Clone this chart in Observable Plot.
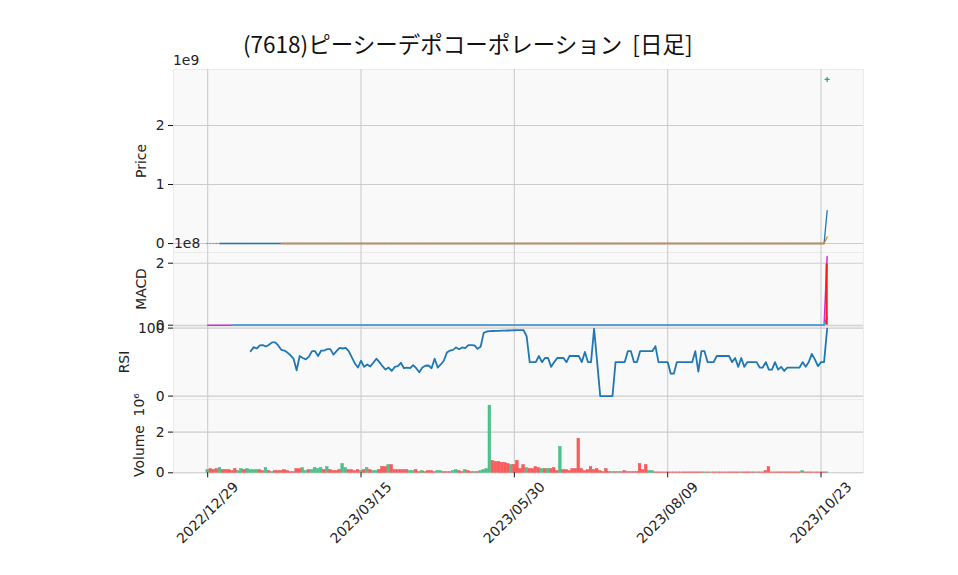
<!DOCTYPE html>
<html><head><meta charset="utf-8">
<script src="https://cdn.jsdelivr.net/npm/d3@7"></script>
<script src="https://cdn.jsdelivr.net/npm/@observablehq/plot@0.6"></script>
<style>
body{margin:0;background:#fff;}
#wrap{position:relative;width:958px;height:575px;overflow:hidden;font-family:"DejaVu Sans",sans-serif;color:#222;}
#title{position:absolute;left:243px;top:32px;font-family:"Noto Sans CJK JP";font-size:22.5px;line-height:23px;color:#111;white-space:pre;z-index:2;}
.lab{position:absolute;font-size:13.9px;line-height:16px;white-space:pre;z-index:2;}
.rot{transform:translate(-50%,-50%) rotate(-90deg);}
svg{position:absolute;left:0;z-index:1;}
</style></head><body>
<div id="wrap">
<div id="title">(7618)ピーシーデポコーポレーション  [日足]</div>
<div class="lab" style="left:173px;top:52px">1e9</div>
<div class="lab" style="left:174px;top:235px">1e8</div>
<div class="lab rot" style="left:141px;top:161px">Price</div>
<div class="lab rot" style="left:141px;top:289px">MACD</div>
<div class="lab rot" style="left:124px;top:362px">RSI</div>
<div class="lab rot" style="left:139px;top:435px">Volume  10⁶</div>
</div>
<script>
const xTickIdx = [0, 50, 100, 150, 200];
const xTickLabels = ["2022/12/29", "2023/03/15", "2023/05/30", "2023/08/09", "2023/10/23"];

// daily close (yen); the last day is a data glitch (~2.78e9)
const close = [
318,320,322,321,325,327,326,329,331,330,
333,335,334,337,339,338,341,343,342,345,
347,350,352,350,347,345,343,341,338,332,
336,335,334,336,339,340,338,341,342,344,
345,342,344,347,348,349,347,343,339,336,
339,336,337,335,337,339,337,334,332,333,
330,332,333,335,332,333,332,334,332,329,
331,332,331,335,331,333,335,338,342,345,
347,350,349,352,353,356,358,359,357,360,
372,380,388,395,401,406,410,413,416,418,
419,420,421,400,380,375,374,373,376,372,
375,375,370,372,374,375,376,373,376,377,
378,377,372,376,372,371,385,374,368,365,
362,360,358,362,363,363,362,366,368,364,
363,367,368,369,370,371,375,370,369,368,
367,364,360,360,361,362,362,361,362,363,
356,362,364,363,362,361,363,364,365,366,
367,365,366,363,365,362,363,363,363,363,
361,360,361,359,358,360,358,358,356,356,
356,356,356,356,357,356,357,359,358,357,
357,357,2780000000
];

const rsi = [
null,null,null,null,null,null,null,null,null,null,null,null,null,null,
66,72,70,74.5,75,73,75.5,79,79,74.5,
68,67,64,60,55,38,59,56,54,58,
66,66,59,67,67,69,69,61,66,71,
70,71,66,57,48,42,52,43,46.5,43.6,
49,55,50,44,39,42,37,43,44,49,
41,42,41,45.6,41,35,42,44.6,45,41,
55,42,46.5,52,64,67,68,71.6,69,71.6,
70.6,75,75,74.5,69.6,72.5,93,95,95.5,95.7,
96,96,96.2,96.4,96.5,96.6,96.8,97,97,97,
88,50,50,50,59,50,56,56,43,50,
56,56,56,50,59,59,59,59,50,65,
50,50,99,50,0,0,0,0,0,50,
50,50,50,66,66,50,50,66,66,66,
66,66,73.5,50,50,50,50,33,33,50,
50,50,50,50,50,66,36,66,66,50,
50,50,59,59,59,59,59,50,56,43,
56,43,50,50,50,50,42,42,50,39,
39,50,39,43,37,42,42,42,42,42,
50,43,50,62,54,44,50,50,99
];

// volume in millions of shares
const volM = [
0.13,0.18,0.15,0.18,0.23,0.13,0.13,0.13,0.08,0.18,
0.08,0.18,0.13,0.18,0.13,0.13,0.13,0.13,0.08,0.23,
0.08,0.03,0.08,0.08,0.08,0.13,0.08,0.03,0.03,0.18,
0.18,0.23,0.08,0.13,0.13,0.23,0.18,0.23,0.13,0.28,
0.13,0.08,0.08,0.13,0.43,0.23,0.13,0.13,0.08,0.13,
0.08,0.13,0.23,0.13,0.08,0.08,0.13,0.28,0.28,0.38,
0.38,0.13,0.13,0.13,0.13,0.13,0.08,0.08,0.13,0.03,
0.08,0.03,0.08,0.08,0.03,0.08,0.08,0.03,0.03,0.03,
0.08,0.13,0.08,0.03,0.13,0.08,0.03,0.03,0.03,0.08,
0.13,0.18,3.30,0.58,0.53,0.53,0.48,0.48,0.43,0.38,
0.38,0.58,0.18,0.38,0.23,0.18,0.18,0.28,0.23,0.18,
0.18,0.18,0.18,0.23,0.08,1.27,0.13,0.13,0.08,0.18,
0.18,1.67,0.18,0.08,0.13,0.28,0.13,0.18,0.08,0.03,
0.18,0.03,0.03,0.03,0.03,0.03,0.08,0.03,0.03,0.03,
0.03,0.43,0.13,0.38,0.08,0.08,0.02,0.02,0.02,0.02,
0.02,0.02,0.02,0.02,0.02,0.02,0.02,0.02,0.02,0.02,
0.02,0.02,0.02,0.02,0.02,0.02,0.02,0.02,0.02,0.02,
0.02,0.02,0.02,0.02,0.02,0.02,0.02,0.02,0.02,0.02,
0.02,0.02,0.08,0.28,0.02,0.02,0.02,0.02,0.02,0.02,
0.02,0.02,0.02,0.02,0.08,0.02,0.02,0.02,0.02,0.02,
0.02,0.02,0.02
];
const volUp = [
1,0,0,0,1,0,0,0,0,0, 1,1,0,1,1,1,1,0,0,1, 0,1,0,0,0,0,0,0,0,0, 0,1,1,0,1,1,1,1,0,1,
0,0,0,0,1,1,0,0,0,0, 1,0,1,0,1,1,0,0,0,1, 0,0,0,0,0,0,1,1,0,0, 1,0,0,0,0,1,1,0,0,0,
1,1,0,0,1,0,0,1,0,1, 1,1,1,0,0,0,0,0,0,1, 0,0,0,0,1,0,0,0,0,1, 0,1,0,0,0,1,0,0,0,0,
0,0,0,0,0,0,0,0,0,0, 0,0,1,0,1,0,0,0,0,0, 0,0,0,0,1,1,0,0,0,0, 0,0,0,0,0,0,0,0,0,0,
0,0,1,0,1,0,0,0,0,0, 0,0,0,0,1,0,0,0,0,1, 0,0,0,0,0,0,0,0,0,0, 0,0,0,0,1,0,0,0,0,0,
0,0,1
];

const GREEN = "#49c48b", RED = "#ff5a5a";
const idx = d3.range(close.length);
const sma = n => close.map((_, i) => i < n - 1 ? null : d3.mean(close.slice(i - n + 1, i + 1)));
const ema = n => { const a = 2 / (n + 1); let e; return close.map((c, i) => e = i === 0 ? c : a * c + (1 - a) * e); };
const sma5 = sma(5), sma25 = sma(25);
const e12 = ema(12), e26 = ema(26);
const macd = idx.map(i => e12[i] - e26[i]);
const signal = idx.map(i => i < 8 ? null : d3.mean(macd.slice(i - 8, i + 1)));
const hist = idx.map(i => signal[i] == null ? null : macd[i] - signal[i]);
const up = idx.map(i => i === 0 || close[i] >= close[i - 1]);

const wrap = document.getElementById("wrap");
const X_DOMAIN = [-11.15, 213.85];

function panel({top, h, yDomain, yTicks, yFmt, marks, marginBottom = 0, extra = []}) {
  const svg = Plot.plot({
    width: 958, height: h + marginBottom,
    marginLeft: 173, marginRight: 95, marginTop: 0, marginBottom,
    x: {domain: X_DOMAIN, axis: null},
    y: {domain: yDomain, axis: null},
    style: {background: "transparent", overflow: "visible", fontFamily: "DejaVu Sans", fontSize: "13.9px", color: "#111"},
    marks: [
      Plot.frame({fill: "#f9f9f9", stroke: "#ebebeb"}),
      Plot.gridX(xTickIdx, {stroke: "#cccccc", strokeOpacity: 1, strokeWidth: 1.1}),
      Plot.gridY(yTicks, {stroke: "#cccccc", strokeOpacity: 1, strokeWidth: 1.1}),
      ...marks,
      Plot.axisY(yTicks, {anchor: "left", tickFormat: yFmt, tickSize: 5, tickPadding: 4, fontSize: 13.9, label: null, fill: "#222"}),
      ...extra
    ]
  });
  svg.style.top = top + "px";
  wrap.appendChild(svg);
}

// Price panel: candles (flat dashes at this scale) under the moving averages
const cUp = idx.filter(i => up[i]), cDn = idx.filter(i => !up[i]);
panel({
  top: 69, h: 183.3, yDomain: [-0.1576e9, 2.949e9], yTicks: [0, 1e9, 2e9], yFmt: d => String(d / 1e9),
  marks: [
    Plot.ruleY(cUp, {y: i => close[i], x1: i => i - 0.35, x2: i => i + 0.35, stroke: GREEN, strokeWidth: 1.2}),
    Plot.ruleY(cDn, {y: i => close[i], x1: i => i - 0.35, x2: i => i + 0.35, stroke: RED, strokeWidth: 1.2}),
    Plot.line(idx, {x: i => i, y: i => sma5[i], stroke: "#1f77b4", strokeWidth: 1.3}),
    Plot.line(idx, {x: i => i, y: i => sma25[i], stroke: "#ff7f0e", strokeWidth: 1.3}),
    Plot.dot(cUp.filter(i => close[i] > 1e8), {x: i => i, y: i => close[i], symbol: "plus", r: 1.8, stroke: "#22b07a", strokeWidth: 1.3})
  ]
});

// MACD panel
const hIdx = idx.filter(i => hist[i] != null);
panel({
  top: 252.3, h: 73.3, yDomain: [-0.0194e8, 2.345e8], yTicks: [0, 2e8], yFmt: d => String(d / 1e8),
  marks: [
    Plot.line(idx, {x: i => i, y: i => macd[i], stroke: "#d62ad6", strokeWidth: 1.5}),
    Plot.line(idx, {x: i => i, y: i => signal[i], stroke: "#36acd4", strokeWidth: 1.8}),
    Plot.rectY(hIdx, {x1: i => i - 0.35, x2: i => i + 0.35, y1: 0, y2: i => hist[i], fill: i => hist[i] >= 0 ? "#ff1a1a" : "#36acd4"})
  ]
});

// RSI panel
panel({
  top: 325.6, h: 73.3, yDomain: [-5.44, 102.35], yTicks: [0, 100], yFmt: d => String(d),
  marks: [
    Plot.line(idx, {x: i => i, y: i => rsi[i], stroke: "#1f77b4", strokeWidth: 1.8})
  ]
});

// Volume panel
panel({
  top: 398.9, h: 73.3, marginBottom: 102, yDomain: [0, 3.602], yTicks: [0, 2], yFmt: d => String(d),
  marks: [
    Plot.rectY(idx.filter(i => volUp[i]), {x1: i => i - 0.42, x2: i => i + 0.42, y1: 0, y2: i => volM[i], fill: GREEN, stroke: "#3fb27d", strokeWidth: 0.5}),
    Plot.rectY(idx.filter(i => !volUp[i]), {x1: i => i - 0.42, x2: i => i + 0.42, y1: 0, y2: i => volM[i], fill: RED, stroke: "#ee4a4a", strokeWidth: 0.5})
  ],
  extra: [
    Plot.axisX(xTickIdx, {anchor: "bottom", tickSize: 5, tickFormat: () => "", label: null}),
    Plot.text(xTickIdx, {x: d => d, frameAnchor: "bottom", dy: 40, text: (d, i) => xTickLabels[i], rotate: -45, textAnchor: "middle", lineAnchor: "middle", fontSize: 13.9, fill: "#222"})
  ]
});
</script>
</body></html>
